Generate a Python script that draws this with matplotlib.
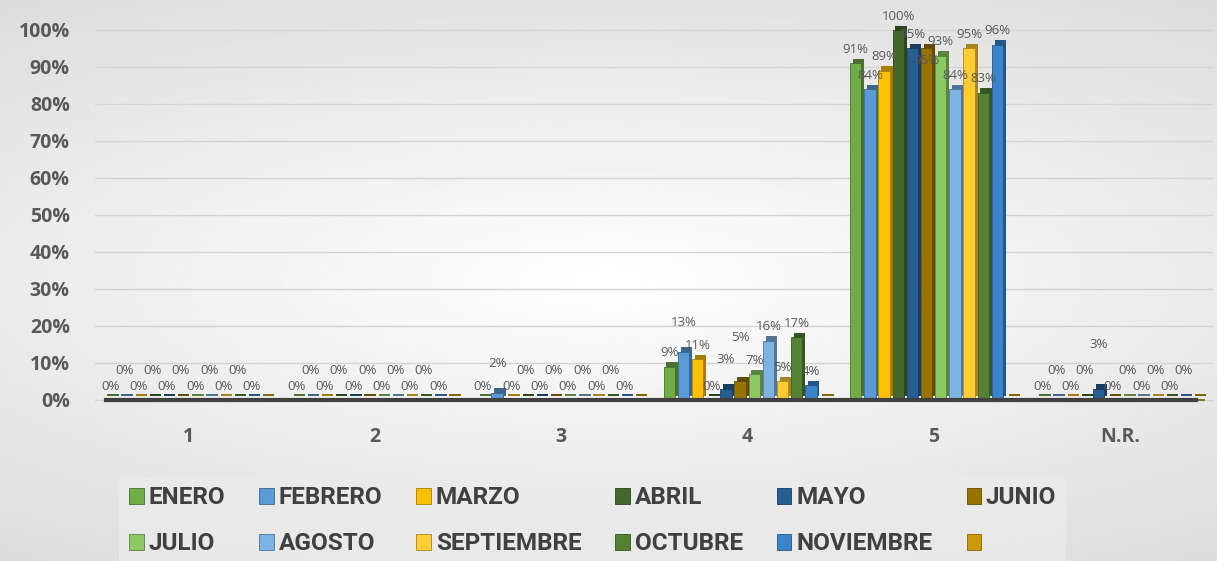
import numpy as np
import matplotlib
matplotlib.use("Agg")
from matplotlib import pyplot as plt
from matplotlib import colors as mcolors

# categories on the x axis and one value list per month (share of answers)
categories = ["1", "2", "3", "4", "5", "N.R."]
series_names = ["ENERO", "FEBRERO", "MARZO", "ABRIL", "MAYO", "JUNIO",
                "JULIO", "AGOSTO", "SEPTIEMBRE", "OCTUBRE", "NOVIEMBRE", ""]

enero = [0.00, 0.00, 0.00, 0.09, 0.91, 0.00]
febrero = [0.00, 0.00, 0.02, 0.13, 0.84, 0.00]
marzo = [0.00, 0.00, 0.00, 0.11, 0.89, 0.00]
abril = [0.00, 0.00, 0.00, 0.00, 1.00, 0.00]
mayo = [0.00, 0.00, 0.00, 0.03, 0.95, 0.03]
junio = [0.00, 0.00, 0.00, 0.05, 0.95, 0.00]
julio = [0.00, 0.00, 0.00, 0.07, 0.93, 0.00]
agosto = [0.00, 0.00, 0.00, 0.16, 0.84, 0.00]
septiembre = [0.00, 0.00, 0.00, 0.05, 0.95, 0.00]
octubre = [0.00, 0.00, 0.00, 0.17, 0.83, 0.00]
noviembre = [0.00, 0.00, 0.00, 0.04, 0.96, 0.00]
diciembre = [np.nan] * 6  # empty series, only shows in legend

series_values = [enero, febrero, marzo, abril, mayo, junio,
                 julio, agosto, septiembre, octubre, noviembre, diciembre]

series_colors = ["#70AD47", "#5B9BD5", "#FFC000", "#43682B", "#255E91", "#997300",
                 "#8CC864", "#7DB3E3", "#FFCD33", "#548235", "#3A84CC", "#CC9A06"]

plt.rcParams['font.family'] = ['Open Sans', 'DejaVu Sans']

fig = plt.figure(figsize=(12.17, 5.61), dpi=100)

# soft grey background like the office chart
bg = fig.add_axes([0, 0, 1, 1], zorder=-10)
yy, xx = np.mgrid[-1:1:200j, -1:1:400j]
grad = 1 - 0.10 * np.clip(np.sqrt((xx * 0.8) ** 2 + (yy * 1.1) ** 2), 0, 1.4)
bg.imshow(grad, cmap='gray', vmin=0, vmax=1, aspect='auto', extent=[0, 1, 0, 1])
bg.axis('off')

ax = fig.add_axes([0.0779, 0.2738, 0.919, 0.7255])
ax.patch.set_alpha(0)

x = np.arange(len(categories))
n = len(series_names)
slot = 0.076
face = slot * 0.8
step = 0.041

placed = []  # (x, y, half width) of data labels already drawn
for i, (name, vals, col) in enumerate(zip(series_names, series_values, series_colors)):
    vals = np.array(vals, dtype=float)
    pos = x + (i - (n - 1) / 2) * slot
    shown = np.where(vals > 0, vals, 0.004)
    dark = np.array(mcolors.to_rgb(col)) * 0.65
    # back/side face to fake the 3d depth
    ax.bar(pos + slot * 0.2, shown, width=face, bottom=0.012, color=dark,
           zorder=2, clip_on=False)
    ax.bar(pos, shown, width=face, color=col, edgecolor=dark, linewidth=0.6,
           zorder=3, clip_on=False, label=name if name else " ")
    for px, v in zip(pos, vals):
        if np.isnan(v):
            continue
        s = "{:.0f}%".format(v * 100)
        hw = len(s) * 0.025
        # try spots above the bar first, then just below its top
        spots = [v + 0.02 + k * step for k in range(6) if v + 0.02 + k * step <= 1.04]
        spots += [v - 0.05 - k * step for k in range(4)]
        y = spots[0]
        for cand in spots:
            if not any(abs(qx - px) < hw + qw and abs(qy - cand) < 0.04
                       for qx, qy, qw in placed):
                y = cand
                break
        placed.append((px, y, hw))
        ax.text(px, y, s, ha='center', va='bottom',
                fontsize=9.5, color='#595959', zorder=5)

ax.set_xlim(-0.5, 5.5)
ax.set_ylim(-0.02, 1.08)
ax.set_yticks(np.arange(0, 1.01, 0.1))
ax.set_yticklabels(["{:.0f}%".format(t * 100) for t in np.arange(0, 1.01, 0.1)])
ax.set_xticks(x)
ax.set_xticklabels(categories)
ax.tick_params(axis='both', length=0, labelsize=14, labelcolor='#595959')
ax.tick_params(axis='y', pad=18)
ax.tick_params(axis='x', pad=14)
for lab in ax.get_xticklabels() + ax.get_yticklabels():
    lab.set_fontweight('bold')
for sp in ax.spines.values():
    sp.set_visible(False)
ax.yaxis.grid(True, color='#d4d4d4', linewidth=1)
ax.set_axisbelow(True)
ax.axhline(0, xmin=0.01, xmax=0.985, color='#404040', linewidth=3, zorder=4)

handles, labels = ax.get_legend_handles_labels()
order = [0, 6, 1, 7, 2, 8, 3, 9, 4, 10, 5, 11]
leg = fig.legend([handles[k] for k in order], [labels[k] for k in order],
                 loc='upper center', bbox_to_anchor=(0.487, 0.172), ncol=6,
                 prop={'family': 'Roboto', 'weight': 'bold', 'size': 17.5},
                 labelcolor='#404040',
                 handlelength=0.6, handleheight=0.6, handletextpad=0.2,
                 columnspacing=1.4, labelspacing=0.95, frameon=True,
                 fancybox=False, borderpad=0.4)
leg.get_frame().set_facecolor('#ebebeb')
leg.get_frame().set_edgecolor('none')

fig.savefig("out.png", dpi=100)
